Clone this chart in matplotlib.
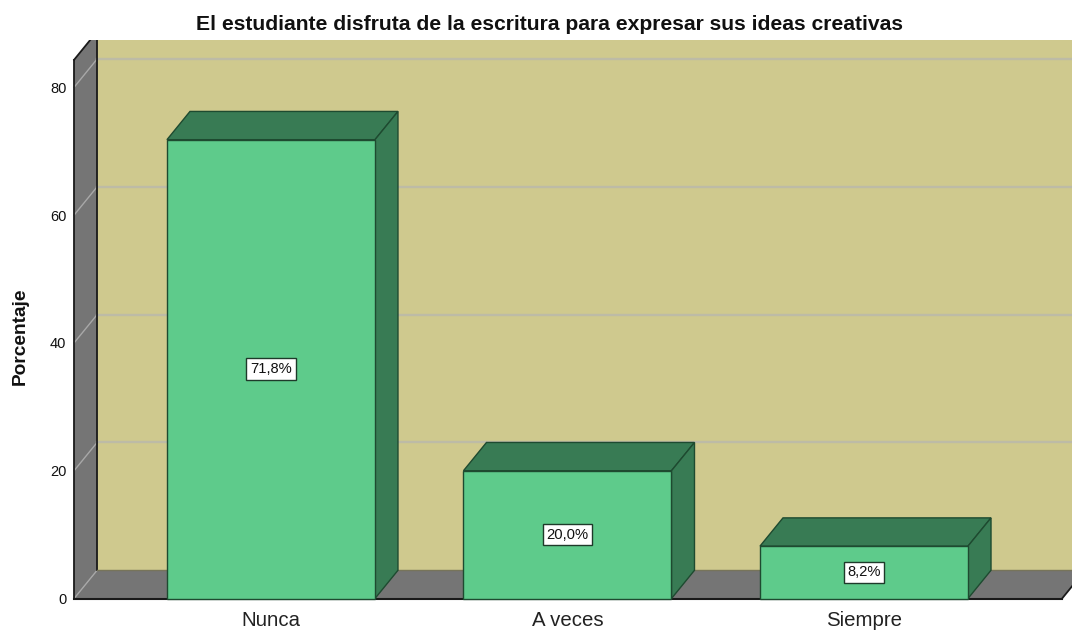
import matplotlib
matplotlib.use("Agg")
import matplotlib.pyplot as plt
from matplotlib.patches import Polygon

categories = ["Nunca", "A veces", "Siempre"]
porcentajes = [71.8, 20.0, 8.2]
y_ticks = [0, 20, 40, 60, 80]

title = "El estudiante disfruta de la escritura para expresar sus ideas creativas"
y_label = "Porcentaje"

# Colours
wall_color = "#cfc98e"
side_color = "#757575"
grid_color = "#bdbba6"
side_grid_color = "#a8a8a8"
bar_color = "#5ecb8b"
bar_dark = "#387b54"
bar_edge = "#1e4a30"

plt.rcParams["font.family"] = ["Liberation Sans", "DejaVu Sans"]

fig = plt.figure(figsize=(10.72, 6.3), dpi=100)
fig.patch.set_facecolor("white")

# Axes placed so that one category step is 296.5 px and one percent is 6.39 px
ax = fig.add_axes([72 / 1072, (630 - 603) / 630, 1000 / 1072, 563 / 630])
ax.set_xlim(-0.671, 2.7015)
ax.set_ylim(-0.70, 87.40)
for spine in ax.spines.values():
    spine.set_visible(False)

# 3D box settings
bar_width = 0.7015
depth_x = 0.0776
depth_y = 4.42
floor_left = -0.664
floor_right = 2.668
wall_top = 84.3
y_top = 87.40
x_far = 2.9


def add_poly(points, color, edge="none", lw=0, z=1):
    ax.add_patch(Polygon(points, closed=True, facecolor=color, edgecolor=edge, linewidth=lw, zorder=z))


# Back wall, left wall, floor
add_poly([(floor_left + depth_x, depth_y), (x_far, depth_y), (x_far, y_top + 5), (floor_left + depth_x, y_top + 5)], wall_color)
add_poly([(floor_left, 0), (floor_left + depth_x, depth_y), (floor_left + depth_x, wall_top + depth_y),
          (floor_left, wall_top)], side_color)
add_poly([(floor_left, 0), (floor_right, 0), (floor_right + depth_x, depth_y), (floor_left + depth_x, depth_y)], side_color)

# Gridlines on back wall and on the side wall
for t in y_ticks:
    if t > 0:
        ax.plot([floor_left + depth_x, x_far], [t + depth_y, t + depth_y], color=grid_color, lw=1.7, zorder=2)
    ax.plot([floor_left, floor_left + depth_x], [t, t + depth_y], color=side_grid_color, lw=1, zorder=2)

# Frame lines
frame = "#1a1a1a"
ax.plot([floor_left, floor_left], [0, wall_top], color=frame, lw=1.3, zorder=3)
ax.plot([floor_left, floor_left + depth_x], [wall_top, wall_top + depth_y], color=frame, lw=1.3, zorder=3)
ax.plot([floor_left + depth_x, floor_left + depth_x], [depth_y, y_top + 5], color=frame, lw=1.3, zorder=3)
ax.plot([floor_left, floor_right], [0, 0], color=frame, lw=1.5, zorder=3)
ax.plot([floor_right, floor_right + depth_x], [0, depth_y], color=frame, lw=1.3, zorder=3)
ax.plot([floor_left + depth_x, x_far], [depth_y, depth_y], color="#77745a", lw=1, zorder=3)

# Bars: front face through ax.bar, top and side as polygons
positions = list(range(len(categories)))
bars = ax.bar(positions, porcentajes, width=bar_width, color=bar_color, edgecolor=bar_edge, linewidth=1, zorder=5)

for x, v in zip(positions, porcentajes):
    x0 = x - bar_width / 2
    x1 = x + bar_width / 2
    add_poly([(x0, v), (x1, v), (x1 + depth_x, v + depth_y), (x0 + depth_x, v + depth_y)], bar_dark, bar_edge, 1, 4)
    add_poly([(x1, 0), (x1 + depth_x, depth_y), (x1 + depth_x, v + depth_y), (x1, v)], bar_dark, bar_edge, 1, 4)
    ax.text(x, v / 2, f"{v:.1f}%".replace(".", ","), ha="center", va="center", fontsize=10.6, color="#111111", zorder=6,
            bbox=dict(boxstyle="square,pad=0.25", facecolor="white", edgecolor="#1e3a2a", linewidth=1))

# Ticks
ax.set_xticks(positions)
ax.set_xticklabels(categories, fontsize=14.7, color="#222222")
ax.set_yticks(y_ticks)
ax.set_yticklabels([str(t) for t in y_ticks], fontsize=10.5, color="#111111")
ax.tick_params(axis="x", length=0, pad=6)
ax.tick_params(axis="y", length=0, pad=4)

fig.text(549 / 1072, 1 - 25 / 630, title, ha="center", va="center", fontsize=15.2, fontweight="bold", color="#111111")
fig.text(20 / 1072, 1 - 336 / 630, y_label, ha="center", va="center", rotation=90, fontsize=13.8, fontweight="bold", color="#111111")

fig.savefig("out.png", dpi=100)
